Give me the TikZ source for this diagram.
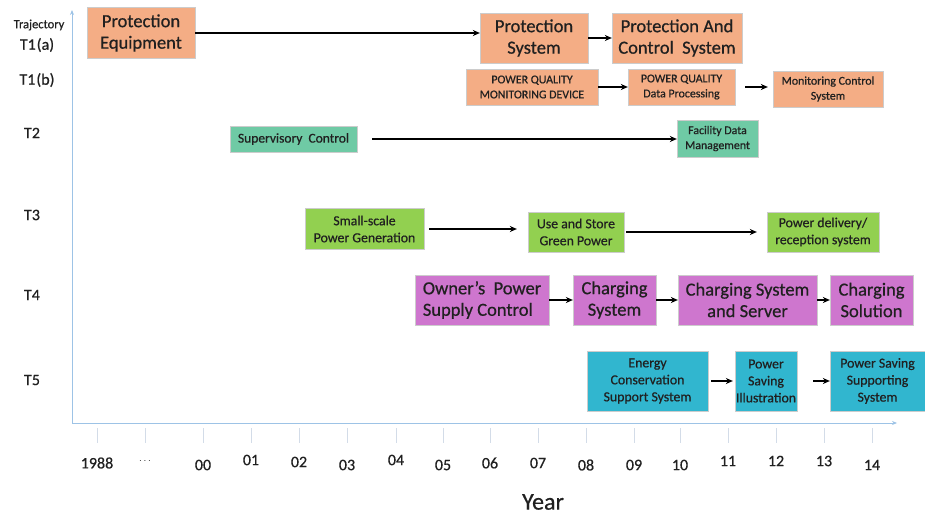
\documentclass[tikz,border=0pt]{standalone}
\usepackage{fontspec}
\setmainfont[RawFeature={embolden=0.6}]{Carlito}
\usetikzlibrary{arrows.meta}
\definecolor{orng}{HTML}{F4AD85}
\definecolor{teal2}{HTML}{6FCAA5}
\definecolor{grn}{HTML}{92D050}
\definecolor{mag}{HTML}{CE76CE}
\definecolor{cyn}{HTML}{31B6CF}
\definecolor{axisblue}{HTML}{9DC3E6}
\definecolor{tickgray}{HTML}{D3DCE8}
\definecolor{txt}{HTML}{202020}
\tikzset{
  box/.style={draw=white!80!black, line width=0.3pt, inner sep=0pt, align=center, text=txt},
  obox/.style={box, fill=orng},
  tbox/.style={box, fill=teal2},
  gbox/.style={box, fill=grn},
  mbox/.style={box, fill=mag},
  cbox/.style={box, fill=cyn},
  conn/.style={line width=1.8pt, -{Stealth[length=7pt,width=6pt]}},
  big/.style={font=\fontsize{18.5}{21.5}\selectfont},
  mid/.style={font=\fontsize{13.8}{17}\selectfont},
  sml/.style={font=\fontsize{11.9}{15}\selectfont},
  yr/.style={font=\fontsize{16}{18}\selectfont, text=txt},
  rowlab/.style={font=\fontsize{16}{18}\selectfont, text=txt},
}
\begin{document}
\begin{tikzpicture}[x=1pt,y=-1pt]
\useasboundingbox (0,0) rectangle (925,514);
% axes
\draw[axisblue, line width=1pt, -{Stealth[length=5pt,width=4pt]}] (72,423) -- (72,10);
\draw[axisblue, line width=1pt, -{Stealth[length=5pt,width=4pt]}] (72,423) -- (897,423);
% ticks and year labels
\foreach \x/\lab/\yy [count=\i] in {97/1988/463, 145/{\fontsize{10}{10}\selectfont$\cdots$}/461, 203/00/465, 251/01/460, 299/02/462, 347/03/465, 396/04/460, 443/05/465, 490/06/463, 538/07/463, 586/08/465, 634/09/465, 680/10/465, 728/11/461, 776/12/461, 824/13/461, 872/14/465}{
  \draw[tickgray, line width=0.8pt] (\x,428) -- (\x,443);
  \node[yr] (yl\i) at (\x,\yy) {\lab};
}
\node[font=\fontsize{24}{26}\selectfont, text=txt] (year) at (543,502) {Year};
% row labels
\node[font=\fontsize{12.5}{14}\selectfont, text=txt] (traj) at (39,25) {Trajectory};
\node[rowlab] (t1a) at (37,45) {T1\kern1pt(a)};
\node[rowlab] (t1b) at (37,80) {T1\kern1pt(b)};
\node[rowlab] (t2) at (32,133) {T2};
\node[rowlab] (t3) at (32,215) {T3};
\node[rowlab] (t4) at (32,295) {T4};
\node[rowlab] (t5) at (32,380) {T5};
% T1(a)
\node[obox, big, minimum width=108, minimum height=51] (pe) at (141,33) {Protection\\Equipment};
\node[obox, big, minimum width=108, minimum height=50] (ps) at (534,38) {Protection\\System};
\node[obox, big, minimum width=130, minimum height=50] (pcs) at (677,38) {Protection And\\Control\ \ System};
\draw[conn] (pe.east) -- (pe.east -| ps.west);
\draw[conn] (ps.east) -- (pcs.west);
% T1(b)
\node[obox, sml, minimum width=132, minimum height=36] (pqmd) at (532,87) {POWER QUALITY\\MONITORING DEVICE};
\node[obox, sml, minimum width=107, minimum height=36] (pqdp) at (681.5,87) {POWER QUALITY\\Data Processing};
\node[obox, sml, minimum width=110, minimum height=36] (mcs) at (828,89) {Monitoring Control\\System};
\draw[conn] (pqmd.east) -- (pqdp.west);
\draw[conn, shorten <=10pt, shorten >=5pt] (pqdp.east) -- (pqdp.east -| mcs.west);
% T2
\node[tbox, font=\fontsize{13.5}{16}\selectfont, minimum width=127, minimum height=26] (sc) at (293.5,139) {Supervisory\ \ Control};
\node[tbox, sml, minimum width=81, minimum height=37] (fdm) at (717.5,138.5) {Facility Data\\Management};
\draw[conn, shorten <=15pt] (sc.east) -- (sc.east -| fdm.west);
% T3
\node[gbox, mid, minimum width=119, minimum height=41] (spg) at (364.5,229) {Small-scale\\Power Generation};
\node[gbox, mid, minimum width=96, minimum height=40] (usg) at (576,232) {Use and Store\\Green Power};
\node[gbox, mid, minimum width=112, minimum height=40] (pdr) at (823,232) {Power delivery/\\reception system};
\draw[conn, shorten <=5pt, shorten >=11pt] (spg.east) -- (spg.east -| usg.west);
\draw[conn, shorten <=2pt, shorten >=10pt] (usg.east) -- (usg.east -| pdr.west);
% T4
\node[mbox, big, minimum width=134, minimum height=50, align=left] (opsc) at (482,300) {Owner's\ \ Power\\Supply Control};
\node[mbox, big, minimum width=83, minimum height=50] (cs) at (614.5,300) {Charging\\System};
\node[mbox, big, minimum width=139, minimum height=50] (css) at (747.5,300) {Charging System\\and Server};
\node[mbox, big, minimum width=83, minimum height=50] (csol) at (871.5,300) {Charging\\Solution};
\draw[conn] (opsc.east) -- (cs.west);
\draw[conn] (cs.east) -- (css.west);
\draw[conn] (css.east) -- (csol.west);
% T5
\node[cbox, mid, minimum width=121, minimum height=60] (ecss) at (647.5,381) {Energy\\Conservation\\Support System};
\node[cbox, mid, minimum width=62, minimum height=60] (psi) at (766,381) {Power\\Saving\\Illustration};
\node[cbox, mid, minimum width=95, minimum height=60] (psss) at (877.5,381) {Power Saving\\Supporting\\System};
\draw[conn, shorten <=3pt, shorten >=2pt] (ecss.east) -- (psi.west);
\draw[conn, shorten <=16pt] (psi.east) -- (psss.west);
\end{tikzpicture}
\end{document}
